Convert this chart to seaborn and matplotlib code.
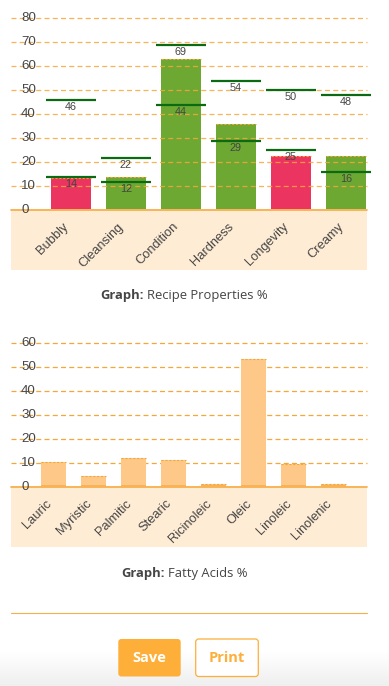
import numpy as np
import pandas as pd
import matplotlib
matplotlib.use("Agg")
import matplotlib.pyplot as plt
import matplotlib.transforms as mtrans
import seaborn as sns
from matplotlib.patches import Rectangle, FancyBboxPatch
from matplotlib.colors import LinearSegmentedColormap

# ---------------- data ----------------
properties = ["Bubbly", "Cleansing", "Condition", "Hardness", "Longevity", "Creamy"]
property_values = [13.5, 14, 63, 36, 22.5, 22.5]
range_low = [14, 12, 44, 29, 25, 16]
range_high = [46, 22, 69, 54, 50, 48]
property_ticks = [0, 10, 20, 30, 40, 50, 60, 70, 80]

acids = ["Lauric", "Myristic", "Palmitic", "Stearic", "Ricinoleic", "Oleic", "Linoleic", "Linolenic"]
acid_values = [10.4, 4.7, 12.2, 11.4, 1.3, 53.3, 9.9, 1.3]
acid_ticks = [0, 10, 20, 30, 40, 50, 60]

title_bold = "Graph:"
title_top = "Recipe Properties %"
title_bottom = "Fatty Acids %"

# ---------------- style ----------------
W, H = 389, 686
RED = "#EC3461"
GREEN = "#6DA832"
DKGREEN = "#0B6B12"
ORANGE = "#F7A738"
PEACH = "#FEECD4"
LIGHT_OR = "#FDC888"
STRIP = "#F9B257"
TXT = "#454545"
BTN = "#FDAF3A"

sns.set_theme(style="white")
plt.rcParams["font.family"] = ["Liberation Sans", "DejaVu Sans"]

fig = plt.figure(figsize=(W / 100, H / 100), dpi=100)
fig.patch.set_facecolor("white")


def rect(l, r, top, bottom):
    return [l / W, 1 - bottom / H, (r - l) / W, (bottom - top) / H]


# background (pixel coordinates)
bg = fig.add_axes([0, 0, 1, 1], zorder=-1)
bg.set_xlim(0, W)
bg.set_ylim(H, 0)
bg.axis("off")
bg.add_patch(Rectangle((11, 210.5), 356, 59.5, color=PEACH, lw=0))
bg.add_patch(Rectangle((11, 487.5), 356, 59.5, color=PEACH, lw=0))
grad = LinearSegmentedColormap.from_list("g", ["#FFFFFF", "#EFEFEF"])
bg.imshow(np.linspace(0, 1, 50)[:, None], extent=[0, W, H, 652], cmap=grad,
          aspect="auto", zorder=0)
bg.set_xlim(0, W)
bg.set_ylim(H, 0)

# captions
cap_font = ["Open Sans", "DejaVu Sans"]
for y, x_split, txt in [(295, 143.5, title_top), (573, 164.5, title_bottom)]:
    bg.text(x_split, y, title_bold, ha="right", va="center", fontsize=9.4,
            fontweight="bold", color=TXT, family=cap_font)
    bg.text(x_split + 4, y, txt, ha="left", va="center", fontsize=9.4,
            color=TXT, family=cap_font)

# separator
bg.plot([11, 367], [612.7, 612.7], color=ORANGE, lw=0.8, alpha=0.9)

# buttons
bg.add_patch(FancyBboxPatch((118.3, 639), 62.4, 37.5,
                            boxstyle="round,pad=0,rounding_size=3",
                            fc=BTN, ec="none", zorder=2))
bg.text(149.5, 658, "Save", ha="center", va="center", color="white",
        fontsize=10.5, fontweight="bold", family=cap_font, zorder=3)
bg.add_patch(FancyBboxPatch((195.7, 639), 62.6, 37.5,
                            boxstyle="round,pad=0,rounding_size=3",
                            fc="white", ec=BTN, lw=0.9, zorder=2))
bg.text(227, 658, "Print", ha="center", va="center", color=BTN,
        fontsize=10.5, fontweight="bold", family=cap_font, zorder=3)


def style_axes(ax, ticks, cats, gridz, galpha):
    for s in ax.spines.values():
        s.set_visible(False)
    ax.set_facecolor("none")
    ax.set_ylabel("")
    ax.set_xlabel("")
    ax.set_yticks([])
    for t in ticks:
        if t == 0:
            ax.axhline(t, color=ORANGE, lw=1.2, zorder=gridz + 0.5, clip_on=False)
        else:
            ax.axhline(t, color=ORANGE, lw=0.9, dashes=(4, 2.6), zorder=gridz,
                       alpha=galpha, clip_on=False)
        ax.text((21 - 11) / 356, t, str(t), transform=ax.get_yaxis_transform(),
                ha="left", va="center", fontsize=9.6, color=TXT, zorder=5)
    ax.set_xticks(range(len(cats)))
    ax.set_xticklabels(cats)
    ax.tick_params(axis="x", length=0, pad=10.5)
    shift = mtrans.ScaledTranslation(-4 / 100, 0, fig.dpi_scale_trans)
    for lab in ax.get_xticklabels():
        lab.set_rotation(45)
        lab.set_ha("right")
        lab.set_va("center")
        lab.set_rotation_mode("anchor")
        lab.set_fontsize(9.3)
        lab.set_color(TXT)
        lab.set_transform(lab.get_transform() + shift)


# ---------------- top chart ----------------
ax1 = fig.add_axes(rect(11, 367, 18.3, 210.3))
colors = [GREEN if lo <= v <= hi else RED
          for v, lo, hi in zip(property_values, range_low, range_high)]
df1 = pd.DataFrame({"prop": properties, "val": property_values})
sns.barplot(data=df1, x="prop", y="val", hue="prop", palette=colors,
            saturation=1, width=40 / 55, legend=False, ax=ax1, zorder=1)
ax1.set_xlim(-60 / 55, 5 + 21 / 55)
ax1.set_ylim(0, 80)
for p in ax1.patches:
    p.set_edgecolor("none")
    h = p.get_height()
    ax1.plot([p.get_x(), p.get_x() + p.get_width()], [h, h], color=ORANGE,
             lw=0.8, dashes=(2, 1.5), zorder=2)
ax1.axhspan(0, 0.55, color="white", zorder=2.2, lw=0)
style_axes(ax1, property_ticks, properties, gridz=3, galpha=0.85)
xs = np.arange(len(properties))
half = 25 / 55
ax1.hlines(range_high, xs - half, xs + half, color=DKGREEN, lw=1.6, zorder=4, clip_on=False)
ax1.hlines(range_low, xs - half, xs + half, color=DKGREEN, lw=1.6, zorder=4, clip_on=False)
for x, lo, hi in zip(xs, range_low, range_high):
    for v in (lo, hi):
        ax1.text(x, v - 3.0, str(v), ha="center", va="center", fontsize=7.8,
                 color=TXT, zorder=5)

# ---------------- bottom chart ----------------
ax2 = fig.add_axes(rect(11, 367, 343.3, 487.3))
df2 = pd.DataFrame({"acid": acids, "val": acid_values})
sns.barplot(data=df2, x="acid", y="val", color=LIGHT_OR, saturation=1,
            width=25 / 40, ax=ax2, zorder=2)
ax2.set_xlim(-42.5 / 40, 7 + 33.5 / 40)
ax2.set_ylim(0, 60)
for p in list(ax2.patches):
    p.set_edgecolor("none")
    h = p.get_height()
    ax2.add_patch(Rectangle((p.get_x(), 0), p.get_width(), min(0.8, h),
                            color=STRIP, lw=0, zorder=2.5))
    ax2.plot([p.get_x(), p.get_x() + p.get_width()], [h, h], color=ORANGE,
             lw=0.8, dashes=(2, 1.5), zorder=3)
style_axes(ax2, acid_ticks, acids, gridz=1, galpha=1.0)

fig.savefig("out.png", dpi=100, facecolor="white")
